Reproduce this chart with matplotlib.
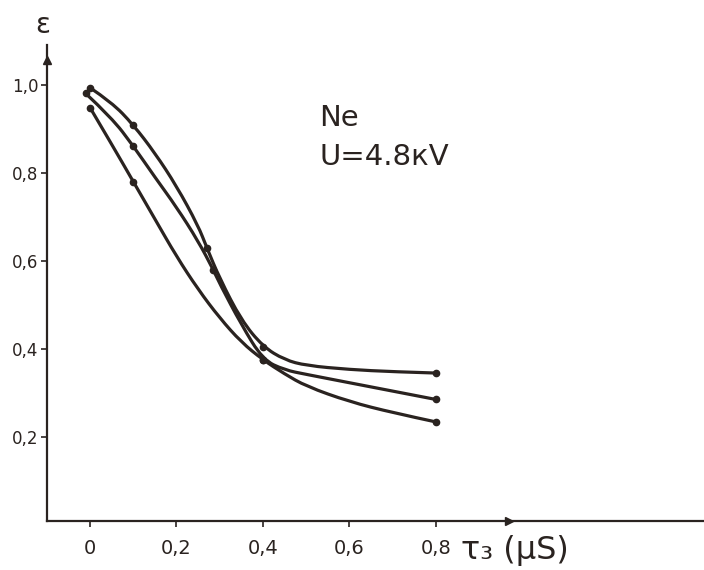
import matplotlib.pyplot as plt
import numpy as np
from matplotlib.path import Path
from matplotlib.patches import PathPatch

# curves (tau_3 in mks, epsilon)
x_a = [0, 0.05, 0.1, 0.15, 0.2, 0.25, 0.27, 0.3, 0.35, 0.4, 0.45, 0.5, 0.6, 0.7, 0.8]
y_a = [0.993, 0.96, 0.909, 0.845, 0.77, 0.68, 0.63, 0.56, 0.465, 0.405, 0.375, 0.362, 0.353, 0.348, 0.345]
x_b = [-0.01, 0.05, 0.1, 0.15, 0.2, 0.25, 0.285, 0.3, 0.35, 0.4, 0.45, 0.5, 0.6, 0.7, 0.8]
y_b = [0.98, 0.925, 0.861, 0.79, 0.722, 0.645, 0.58, 0.548, 0.455, 0.375, 0.352, 0.342, 0.323, 0.304, 0.285]
x_c = [0, 0.05, 0.1, 0.15, 0.2, 0.25, 0.3, 0.35, 0.4, 0.45, 0.5, 0.6, 0.7, 0.8]
y_c = [0.948, 0.865, 0.78, 0.695, 0.61, 0.535, 0.47, 0.415, 0.375, 0.343, 0.315, 0.28, 0.255, 0.234]

# measured points (the dots)
dots_xa = [0, 0.1, 0.27, 0.4, 0.8]
dots_ya = [0.993, 0.909, 0.63, 0.405, 0.345]
dots_xb = [-0.01, 0.1, 0.285, 0.4, 0.8]
dots_yb = [0.98, 0.861, 0.58, 0.375, 0.285]
dots_xc = [0, 0.1, 0.4, 0.8]
dots_yc = [0.948, 0.78, 0.375, 0.234]

xticks = [0, 0.2, 0.4, 0.6, 0.8]
xlabels = ['0', '0,2', '0,4', '0,6', '0,8']
yticks = [0.2, 0.4, 0.6, 0.8, 1.0]
ylabels = ['0,2', '0,4', '0,6', '0,8', '1,0']

ink = '#2a2320'


def smooth(ax, xs, ys):
    # quadratic bezier through the read points so the line looks hand drawn
    pts = np.column_stack([xs, ys])
    verts = [pts[0]]
    codes = [Path.MOVETO]
    n = len(pts)
    for i in range(1, n - 1):
        end = pts[i + 1] if i == n - 2 else (pts[i] + pts[i + 1]) / 2
        verts += [pts[i], end]
        codes += [Path.CURVE3, Path.CURVE3]
    p = PathPatch(Path(verts, codes), fill=False, edgecolor=ink, lw=2.3,
                  capstyle='round', joinstyle='round')
    ax.add_patch(p)


fig = plt.figure(figsize=(7.04, 5.70), dpi=100)
ax = fig.add_axes([47 / 704, 49 / 570, 657 / 704, 476 / 570])
ax.set_xlim(-0.0994, 1.42)
ax.set_ylim(0.009, 1.09)

for xs, ys in [(x_a, y_a), (x_b, y_b), (x_c, y_c)]:
    smooth(ax, xs, ys)
for xs, ys in [(dots_xa, dots_ya), (dots_xb, dots_yb), (dots_xc, dots_yc)]:
    ax.plot(xs, ys, 'o', color=ink, ms=4.5)

for s in ['top', 'right']:
    ax.spines[s].set_visible(False)
for s in ['left', 'bottom']:
    ax.spines[s].set_color(ink)
    ax.spines[s].set_linewidth(1.6)

ax.set_xticks(xticks)
ax.set_xticklabels(xlabels, fontsize=14, color=ink)
ax.set_yticks(yticks)
ax.set_yticklabels(ylabels, fontsize=12, color=ink)
ax.tick_params(colors=ink, length=4, width=1.2)
ax.tick_params(axis='x', pad=9)
ax.tick_params(axis='y', pad=2)

# arrow heads on the axes
ax.plot([-0.0994], [1.057], marker='^', color=ink, ms=6, clip_on=False)
ax.plot([0.97], [0.009], marker='>', color=ink, ms=6, clip_on=False)

fig.text(35 / 704, 1 - 25 / 570, 'ε', fontsize=20, color=ink, ha='left', va='center')
ax.text(0.53, 0.925, 'Ne', fontsize=21, color=ink, ha='left', va='center')
ax.text(0.53, 0.835, 'U=4.8кV', fontsize=21, color=ink, ha='left', va='center')
fig.text(461 / 704, 1 - 550 / 570, 'τ₃ (μS)', fontsize=23, color=ink, ha='left', va='center')

fig.savefig('out.png', dpi=100, facecolor='white')
